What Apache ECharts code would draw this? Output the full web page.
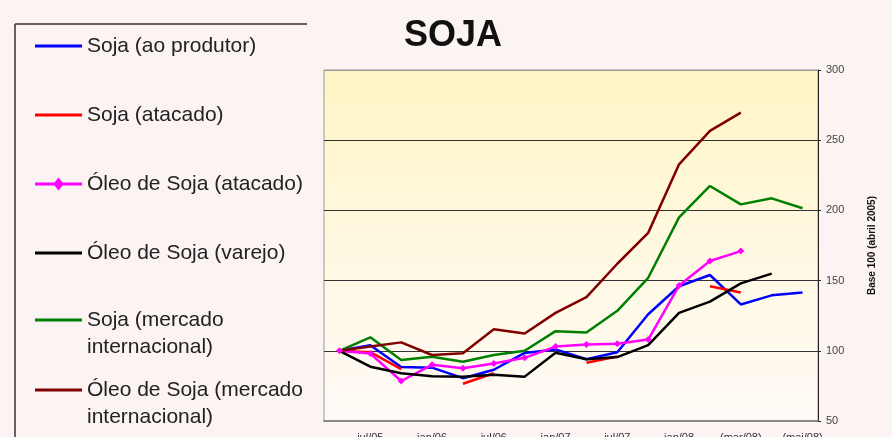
<!DOCTYPE html>
<html>
<head>
<meta charset="utf-8">
<title>SOJA</title>
<script src="https://cdn.jsdelivr.net/npm/echarts@6.0.0/dist/echarts.min.js"></script>
<style>
  html, body { margin: 0; padding: 0; background: #fcf3f3; }
  #main { width: 892px; height: 437px; }
</style>
</head>
<body>
<div id="main"></div>
<script>
    // trimestral ate jan/08, depois mensal
    var categories = ['abr/05', 'jul/05', 'out/05', 'jan/06', 'abr/06', 'jul/06', 'out/06', 'jan/07',
                      'abr/07', 'jul/07', 'out/07', 'jan/08', '(fev/08)', '(mar/08)', '(abr/08)', '(mai/08)'];

    var yTicks = [50, 100, 150, 200, 250, 300];

    var sojaProdutor = [100, 104, 88.5, 88, 80.5, 86.5, 98.5, 101, 94, 99, 126, 146, 154, 133, 139.5, 141.5];
    var sojaAtacado = [100, 99, 87, null, 76.5, 84, null, null, 91.5, 96, null, null, 146, 141.5, null, null];
    var oleoAtacado = [100, 98, 78.5, 90, 87.5, 91, 95, 103, 104.5, 105, 108, 146.5, 164, 171, null, null];
    var oleoVarejo = [100, 88.7, 84, 81.8, 81.6, 83, 81.6, 98.6, 94, 95.5, 104, 127, 135, 148, 155, null];
    var sojaInternacional = [100, 109.6, 93.4, 95.8, 92.2, 97, 100, 114, 113, 128.5, 152, 195, 217.4, 204.3, 208.6, 201.5];
    var oleoInternacional = [100, 103, 106, 97, 98.2, 115.3, 112.3, 127, 138.3, 162, 184, 232.8, 256.6, 269.6, null, null];

    var seriesNames = ['Soja (ao produtor)', 'Soja (atacado)', 'Óleo de Soja (atacado)', 'Óleo de Soja (varejo)',
                       'Soja (mercado internacional)', 'Óleo de Soja (mercado internacional)'];
    var seriesData = [sojaProdutor, sojaAtacado, oleoAtacado, oleoVarejo, sojaInternacional, oleoInternacional];
    var colors = ['#0000ff', '#ff0000', '#ff00ff', '#000000', '#008000', '#800000'];

    var font = "'Liberation Sans', Arial, sans-serif";

    // icones da legenda: traco simples, traco com losango, traco no topo (texto de 2 linhas)
    var iconLine = 'path://M0,0 L47,0 L47,3 L0,3 Z';
    var iconDiamond = 'path://M0,5 L19.5,5 L23.5,0 L27.5,5 L47,5 L47,8 L27.5,8 L23.5,13 L19.5,8 L0,8 Z';
    var iconTop = 'path://M0,0 L47,0 L47,3 L0,3 Z M0,29.9 L0.1,29.9 L0.1,30 L0,30 Z';

    var myChart = echarts.init(document.getElementById('main'));

    // uma legenda por item para acertar as alturas (2 linhas nos ultimos)
    var legendTops = [32.5, 101.5, 170.5, 239.5, 306.5, 376.5];
    var legends = seriesNames.map(function (name, i) {
        var twoLines = name.indexOf('internacional') >= 0;
        var icon = iconLine, h = 3;
        if (i === 2) { icon = iconDiamond; h = 13; }
        if (twoLines) { icon = iconTop; h = 30; }
        return {
            data: [{ name: name, icon: icon }],
            orient: 'vertical',
            left: 35,
            top: legendTops[i],
            padding: 0,
            itemWidth: 47,
            itemHeight: h,
            selectedMode: false,
            formatter: function (n) { return n.replace(' internacional', '\ninternacional'); },
            textStyle: {
                fontFamily: font,
                fontSize: 21,
                color: '#222',
                lineHeight: 27
            }
        };
    });

    var series = seriesNames.map(function (name, i) {
        var s = {
            name: name,
            type: 'line',
            data: seriesData[i],
            symbol: 'none',
            lineStyle: { color: colors[i], width: 2.5 },
            itemStyle: { color: colors[i] }
        };
        if (i === 2) {
            s.symbol = 'diamond';
            s.symbolSize = 7;
            s.showSymbol = true;
        }
        return s;
    });

    var option = {
        backgroundColor: '#fcf3f3',
        animation: false,
        title: {
            text: 'SOJA',
            left: 404,
            top: 18,
            padding: 0,
            textStyle: { fontFamily: font, fontSize: 36, fontWeight: 'bold', color: '#111' }
        },
        legend: legends,
        graphic: [
            { type: 'line', shape: { x1: 15, y1: 24, x2: 307, y2: 24 }, style: { stroke: '#333', lineWidth: 1.5 } },
            { type: 'line', shape: { x1: 15, y1: 24, x2: 15, y2: 437 }, style: { stroke: '#333', lineWidth: 1.5 } }
        ],
        grid: {
            left: 324,
            right: 74,
            top: 70,
            bottom: 16,
            outerBoundsMode: 'none',
            show: true,
            borderColor: '#999',
            borderWidth: 1,
            backgroundColor: {
                type: 'linear', x: 0, y: 0, x2: 0, y2: 1,
                colorStops: [
                    { offset: 0, color: '#fff5c4' },
                    { offset: 0.55, color: '#fff9e4' },
                    { offset: 1, color: '#fffaf6' }
                ]
            }
        },
        xAxis: {
            type: 'category',
            data: categories,
            boundaryGap: true,
            axisLine: { lineStyle: { color: '#888', width: 2 } },
            axisTick: { interval: 0, length: 4, lineStyle: { color: '#888' } },
            axisLabel: {
                interval: function (i) { return i % 2 === 1; },
                margin: 11,
                fontFamily: font,
                fontSize: 11,
                color: '#333'
            },
            splitLine: { show: false }
        },
        yAxis: {
            type: 'value',
            position: 'right',
            min: yTicks[0],
            max: yTicks[yTicks.length - 1],
            interval: 50,
            name: 'Base 100 (abril 2005)',
            nameLocation: 'middle',
            nameRotate: 90,
            nameGap: 49,
            nameTextStyle: { fontFamily: font, fontSize: 10, fontWeight: 'bold', color: '#111' },
            axisLine: { show: true, lineStyle: { color: '#222', width: 1 } },
            axisTick: { show: true, length: 3, lineStyle: { color: '#222' } },
            axisLabel: { margin: 8, fontFamily: font, fontSize: 11, color: '#444' },
            splitLine: {
                show: true,
                lineStyle: { color: ['#999', '#333', '#333', '#333', '#333', '#999'], width: 1 }
            }
        },
        series: series
    };

    myChart.setOption(option);
</script>
</body>
</html>
